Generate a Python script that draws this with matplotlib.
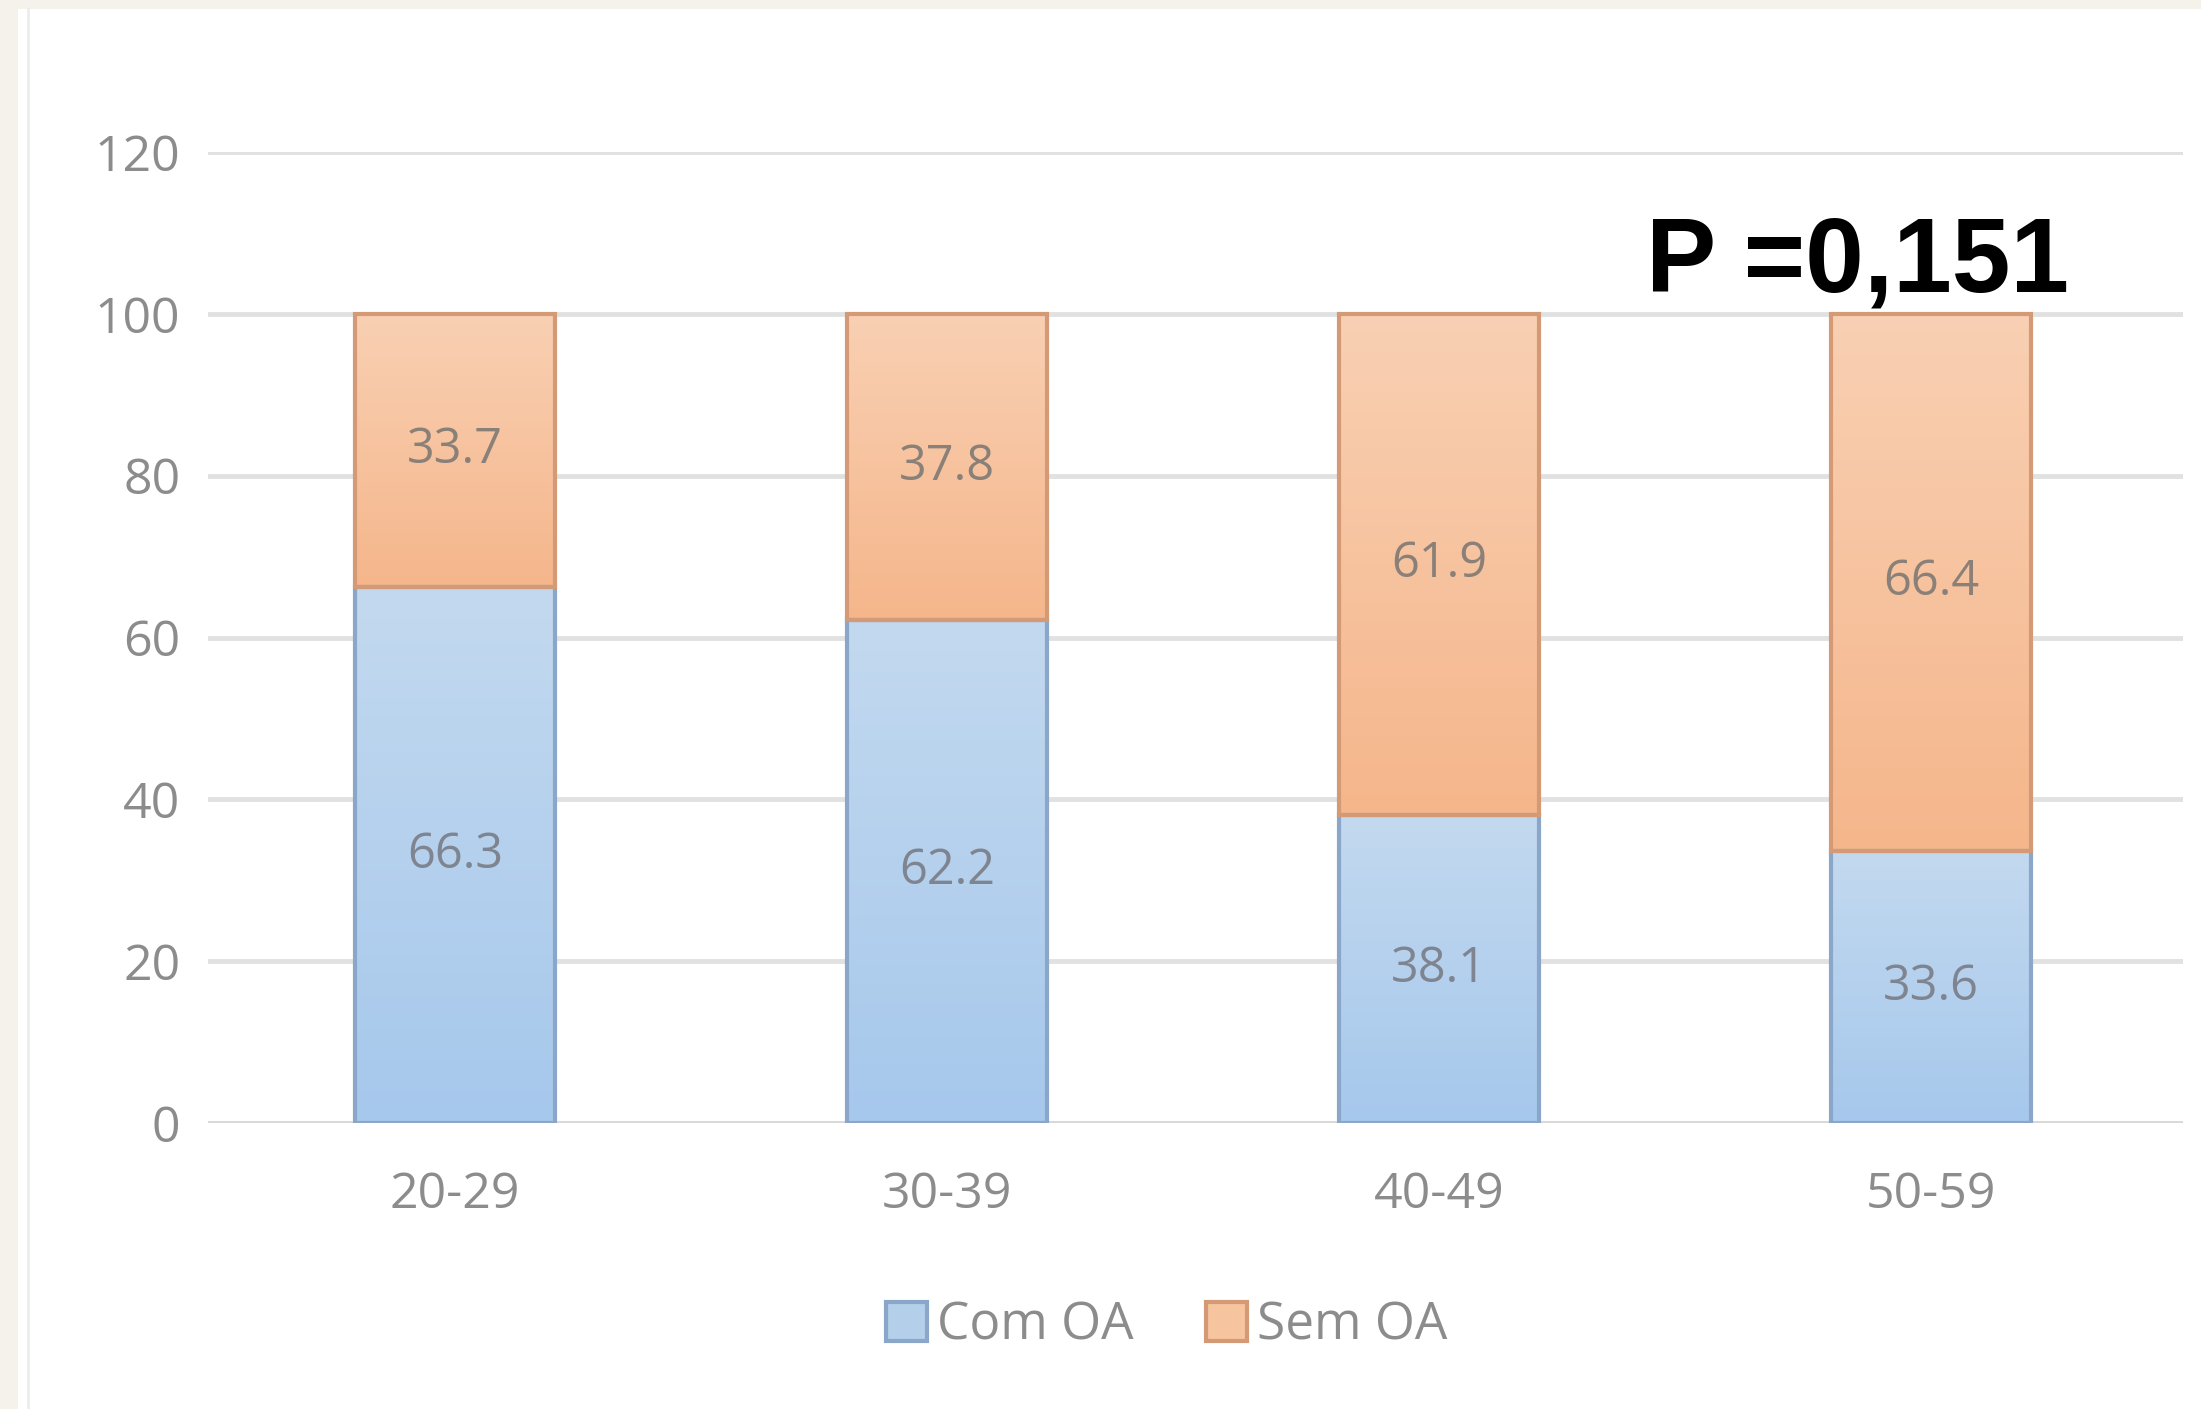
import numpy as np
import matplotlib
matplotlib.use("Agg")
import matplotlib.pyplot as plt
from matplotlib.patches import Rectangle
from matplotlib.colors import LinearSegmentedColormap

# dados
faixas = ["20-29", "30-39", "40-49", "50-59"]
com_oa = [66.3, 62.2, 38.1, 33.6]
sem_oa = [33.7, 37.8, 61.9, 66.4]
yticks = [0, 20, 40, 60, 80, 100, 120]
p_texto = "P =0,151"

cinza = "#8c8c8c"
plt.rcParams["font.family"] = ["Open Sans", "DejaVu Sans"]

fig = plt.figure(figsize=(22.01, 14.09), dpi=100)
fig.patch.set_facecolor("#f5f2ec")
# painel branco
fig.add_artist(Rectangle((18 / 2201, 0), 1, 1 - 9 / 1409, transform=fig.transFigure,
                         facecolor="white", edgecolor="none", zorder=0))
fig.add_artist(plt.Line2D([28 / 2201, 28 / 2201], [0, 1 - 9 / 1409], transform=fig.transFigure,
                          color="#ececec", lw=2, zorder=1))

ax = fig.add_axes([208 / 2201, 1 - 1123 / 1409, (2183 - 208) / 2201, (1123 - 152) / 1409])
ax.set_facecolor("none")

x = np.arange(len(faixas))
larg = 0.405
b1 = ax.bar(x, com_oa, larg, color="#b4cfea", edgecolor="#8aa6c8", linewidth=3, zorder=3,
            label="Com OA")
b2 = ax.bar(x, sem_oa, larg, bottom=com_oa, color="#f7c4a0", edgecolor="#d49a76", linewidth=3,
            zorder=3, label="Sem OA")

# gradiente tipo Excel
cm_azul = LinearSegmentedColormap.from_list("az", ["#a6c8ec", "#c3d9ef"])
cm_lar = LinearSegmentedColormap.from_list("la", ["#f5b68b", "#f9d0b3"])
grad = np.linspace(0, 1, 256).reshape(-1, 1)
for bars, cm in [(b1, cm_azul), (b2, cm_lar)]:
    for p in bars:
        x0, y0 = p.get_x(), p.get_y()
        im = ax.imshow(grad, cmap=cm, origin="lower", aspect="auto", zorder=3.5,
                       extent=(x0, x0 + p.get_width(), y0, y0 + p.get_height()))
        im.set_clip_path(p)
        p.set_facecolor("none")
        p.set_zorder(4)

for i in range(len(faixas)):
    ax.text(x[i], com_oa[i] / 2, f"{com_oa[i]}", ha="center", va="center",
            fontsize=35, color="#7f8590", zorder=5)
    ax.text(x[i], com_oa[i] + sem_oa[i] / 2, f"{sem_oa[i]}", ha="center", va="center",
            fontsize=35, color="#8a8078", zorder=5)

ax.set_xlim(-0.502, 3.512)
ax.set_ylim(0, 120)
ax.set_yticks(yticks)
ax.set_xticks(x)
ax.set_xticklabels(faixas)
ax.tick_params(axis="both", length=0, labelsize=36, labelcolor=cinza)
ax.tick_params(axis="y", pad=20)
ax.tick_params(axis="x", pad=34)
ax.yaxis.grid(True, color="#e1e1e1", lw=3.5, zorder=0)
for s in ax.spines.values():
    s.set_visible(False)
ax.axhline(0, color="#d9d9d9", lw=3.5, zorder=2)

ax.text(2.85, 102.7, p_texto, ha="center", va="baseline", fontsize=76, fontweight="bold",
        color="black", family=["Liberation Sans", "DejaVu Sans"], zorder=6)

h1 = Rectangle((0, 0), 1, 1, facecolor="#b4cfea", edgecolor="#8aa6c8", lw=3)
h2 = Rectangle((0, 0), 1, 1, facecolor="#f7c4a0", edgecolor="#d49a76", lw=3)
leg = fig.legend([h1, h2], ["Com OA", "Sem OA"], loc="center", bbox_to_anchor=(0.53, 0.059),
                 ncol=2, frameon=False, fontsize=37, handlelength=0.8, handleheight=0.8,
                 handletextpad=0.2, columnspacing=1.4)
for t in leg.get_texts():
    t.set_color(cinza)

fig.savefig("out.png", dpi=100, facecolor=fig.get_facecolor())
